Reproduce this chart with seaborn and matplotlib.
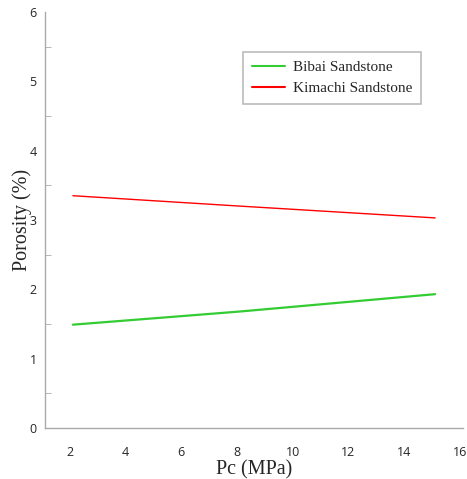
import matplotlib
matplotlib.use("Agg")
import matplotlib.pyplot as plt
import seaborn as sns
import pandas as pd
from matplotlib.ticker import MultipleLocator
from matplotlib.transforms import ScaledTranslation

# values
pc_mpa = [2, 8, 15]
bibai_porosity = [1.49, 1.68, 1.93]
kimachi_porosity = [3.35, 3.20, 3.03]
series_names = ["Bibai Sandstone", "Kimachi Sandstone"]
x_ticks = [2, 4, 6, 8, 10, 12, 14, 16]
y_ticks = [0, 1, 2, 3, 4, 5, 6]

df = pd.DataFrame({
    "Pc": pc_mpa * 2,
    "Porosity": bibai_porosity + kimachi_porosity,
    "Sample": [series_names[0]] * len(pc_mpa) + [series_names[1]] * len(pc_mpa),
})

sns.set_style("white")
plt.rcParams["font.family"] = ["Open Sans", "DejaVu Sans"]

fig = plt.figure(figsize=(4.67, 4.79), dpi=100)
ax = fig.add_axes([0.0964, 0.1065, 0.895, 0.8685])

sns.lineplot(data=df, x="Pc", y="Porosity", hue="Sample",
             palette=["#33cc33", "#ff0000"], ax=ax, legend=True)
for line, lw in zip(ax.lines, [1.6, 1.0]):
    line.set_linewidth(lw)

ax.set_xlim(1, 16)
ax.set_ylim(0, 6)
ax.set_xticks(x_ticks)
ax.set_yticks(y_ticks)
ax.yaxis.set_minor_locator(MultipleLocator(0.5))
ax.tick_params(axis="x", which="major", direction="out", length=5, color="#aaaaaa",
               labelsize=9, pad=8)
ax.tick_params(axis="y", which="major", length=0, labelsize=9, pad=6)
ax.tick_params(axis="y", which="minor", direction="in", length=4, color="#aaaaaa", left=True)

# x labels sit a little left of their ticks, like the reference
shift = ScaledTranslation(-3 / 100, 0, fig.dpi_scale_trans)
for lbl in ax.get_xticklabels():
    lbl.set_transform(lbl.get_transform() + shift)

for side in ["top", "right"]:
    ax.spines[side].set_visible(False)
for side in ["left", "bottom"]:
    ax.spines[side].set_color("#aaaaaa")
    ax.spines[side].set_linewidth(1.0)

ax.set_xlabel("Pc (MPa)", family="Liberation Serif", fontsize=14.5, labelpad=1)
ax.set_ylabel("Porosity (%)", family="Liberation Serif", fontsize=14.5)
ax.yaxis.set_label_coords(-0.031, 0.5)

handles, labels = ax.get_legend_handles_labels()
leg = ax.legend(handles, labels, loc="upper left", bbox_to_anchor=(0.474, 0.904),
                borderaxespad=0, fancybox=False, edgecolor="#bbbbbb", framealpha=1,
                prop={"family": "Liberation Serif", "size": 11},
                handlelength=2.2, handletextpad=0.5, borderpad=0.55, labelspacing=0.5)
leg.get_frame().set_linewidth(1.2)

fig.savefig("out.png", dpi=100)
